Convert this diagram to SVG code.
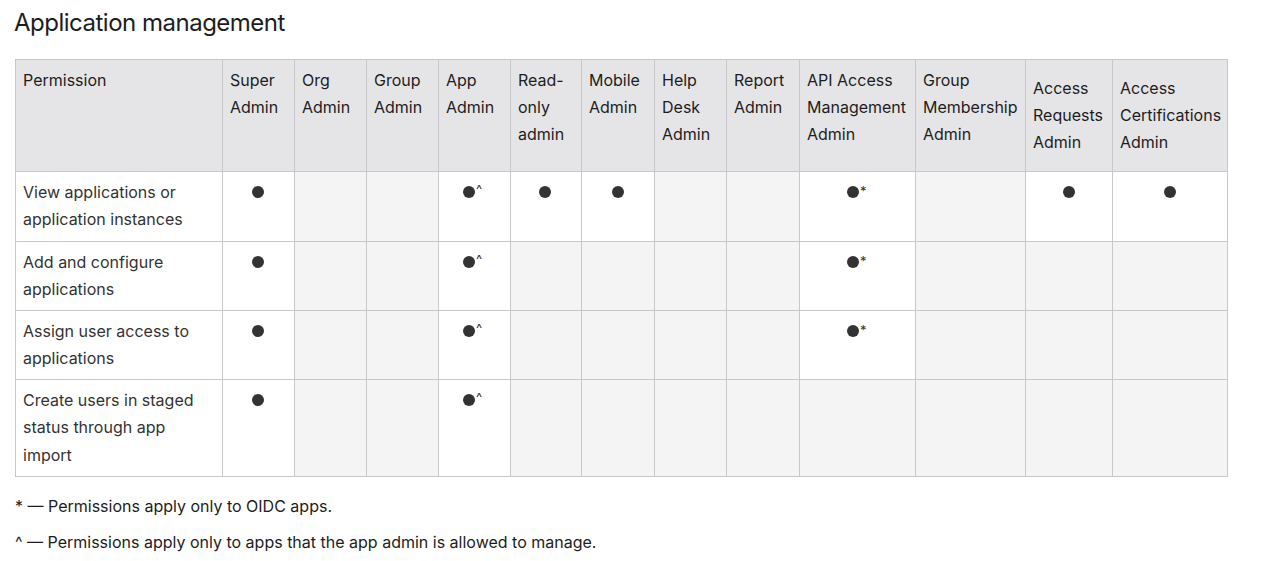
<svg xmlns="http://www.w3.org/2000/svg" width="1274" height="561" viewBox="0 0 1274 561">
<style>
text{font-family:Inter,"Liberation Sans",sans-serif;fill:#1d1d21}
.t{font-size:24px;letter-spacing:-0.5px}
.h{font-size:16px}
.b{font-size:16px;fill:#333}
.f{font-size:16px}
.s{font-size:13px;fill:#333}
.hd{fill:#e5e5e8;stroke:#c8c8c8}
.w{fill:#fff;stroke:#c8c8c8}
.g{fill:#f4f4f4;stroke:#c8c8c8}
.d{fill:#333}
</style>
<rect width="1274" height="561" fill="#fff"/>
<text class="t" x="14" y="31">Application management</text>
<g id="table">
<g id="header">
<rect class="hd" x="15.5" y="59.5" width="207" height="112"/>
<rect class="hd" x="222.5" y="59.5" width="72" height="112"/>
<rect class="hd" x="294.5" y="59.5" width="72" height="112"/>
<rect class="hd" x="366.5" y="59.5" width="72" height="112"/>
<rect class="hd" x="438.5" y="59.5" width="72" height="112"/>
<rect class="hd" x="510.5" y="59.5" width="71" height="112"/>
<rect class="hd" x="581.5" y="59.5" width="73" height="112"/>
<rect class="hd" x="654.5" y="59.5" width="72" height="112"/>
<rect class="hd" x="726.5" y="59.5" width="73" height="112"/>
<rect class="hd" x="799.5" y="59.5" width="116" height="112"/>
<rect class="hd" x="915.5" y="59.5" width="110" height="112"/>
<rect class="hd" x="1025.5" y="59.5" width="87" height="112"/>
<rect class="hd" x="1112.5" y="59.5" width="115" height="112"/>
<text class="h" x="23" y="86">Permission</text>
<text class="h" x="230" y="86">Super<tspan x="230" y="113">Admin</tspan></text>
<text class="h" x="302" y="86">Org<tspan x="302" y="113">Admin</tspan></text>
<text class="h" x="374" y="86">Group<tspan x="374" y="113">Admin</tspan></text>
<text class="h" x="446" y="86">App<tspan x="446" y="113">Admin</tspan></text>
<text class="h" x="518" y="86">Read-<tspan x="518" y="113">only</tspan><tspan x="518" y="140">admin</tspan></text>
<text class="h" x="589" y="86">Mobile<tspan x="589" y="113">Admin</tspan></text>
<text class="h" x="662" y="86">Help<tspan x="662" y="113">Desk</tspan><tspan x="662" y="140">Admin</tspan></text>
<text class="h" x="734" y="86">Report<tspan x="734" y="113">Admin</tspan></text>
<text class="h" x="807" y="86">API Access<tspan x="807" y="113">Management</tspan><tspan x="807" y="140">Admin</tspan></text>
<text class="h" x="923" y="86">Group<tspan x="923" y="113">Membership</tspan><tspan x="923" y="140">Admin</tspan></text>
<text class="h" x="1033" y="94">Access<tspan x="1033" y="121">Requests</tspan><tspan x="1033" y="148">Admin</tspan></text>
<text class="h" x="1120" y="94">Access<tspan x="1120" y="121">Certifications</tspan><tspan x="1120" y="148">Admin</tspan></text>
</g>
<g id="row1">
<rect class="w" x="15.5" y="171.5" width="207" height="70"/>
<rect class="w" x="222.5" y="171.5" width="72" height="70"/>
<rect class="g" x="294.5" y="171.5" width="72" height="70"/>
<rect class="g" x="366.5" y="171.5" width="72" height="70"/>
<rect class="w" x="438.5" y="171.5" width="72" height="70"/>
<rect class="w" x="510.5" y="171.5" width="71" height="70"/>
<rect class="w" x="581.5" y="171.5" width="73" height="70"/>
<rect class="g" x="654.5" y="171.5" width="72" height="70"/>
<rect class="g" x="726.5" y="171.5" width="73" height="70"/>
<rect class="w" x="799.5" y="171.5" width="116" height="70"/>
<rect class="g" x="915.5" y="171.5" width="110" height="70"/>
<rect class="w" x="1025.5" y="171.5" width="87" height="70"/>
<rect class="w" x="1112.5" y="171.5" width="115" height="70"/>
<text class="b" x="23" y="198">View applications or<tspan x="23" y="225">application instances</tspan></text>
<circle class="d" cx="258" cy="192" r="6"/>
<circle class="d" cx="469" cy="192" r="6"/><text class="s" x="476" y="194">^</text>
<circle class="d" cx="545" cy="192" r="6"/>
<circle class="d" cx="618" cy="192" r="6"/>
<circle class="d" cx="853" cy="192" r="6"/><text class="s" x="860" y="196">*</text>
<circle class="d" cx="1069" cy="192" r="6"/>
<circle class="d" cx="1170" cy="192" r="6"/>
</g>
<g id="row2">
<rect class="w" x="15.5" y="241.5" width="207" height="69"/>
<rect class="w" x="222.5" y="241.5" width="72" height="69"/>
<rect class="g" x="294.5" y="241.5" width="72" height="69"/>
<rect class="g" x="366.5" y="241.5" width="72" height="69"/>
<rect class="w" x="438.5" y="241.5" width="72" height="69"/>
<rect class="g" x="510.5" y="241.5" width="71" height="69"/>
<rect class="g" x="581.5" y="241.5" width="73" height="69"/>
<rect class="g" x="654.5" y="241.5" width="72" height="69"/>
<rect class="g" x="726.5" y="241.5" width="73" height="69"/>
<rect class="w" x="799.5" y="241.5" width="116" height="69"/>
<rect class="g" x="915.5" y="241.5" width="110" height="69"/>
<rect class="g" x="1025.5" y="241.5" width="87" height="69"/>
<rect class="g" x="1112.5" y="241.5" width="115" height="69"/>
<text class="b" x="23" y="268">Add and configure<tspan x="23" y="295">applications</tspan></text>
<circle class="d" cx="258" cy="262" r="6"/>
<circle class="d" cx="469" cy="262" r="6"/><text class="s" x="476" y="264">^</text>
<circle class="d" cx="853" cy="262" r="6"/><text class="s" x="860" y="266">*</text>
</g>
<g id="row3">
<rect class="w" x="15.5" y="310.5" width="207" height="69"/>
<rect class="w" x="222.5" y="310.5" width="72" height="69"/>
<rect class="g" x="294.5" y="310.5" width="72" height="69"/>
<rect class="g" x="366.5" y="310.5" width="72" height="69"/>
<rect class="w" x="438.5" y="310.5" width="72" height="69"/>
<rect class="g" x="510.5" y="310.5" width="71" height="69"/>
<rect class="g" x="581.5" y="310.5" width="73" height="69"/>
<rect class="g" x="654.5" y="310.5" width="72" height="69"/>
<rect class="g" x="726.5" y="310.5" width="73" height="69"/>
<rect class="w" x="799.5" y="310.5" width="116" height="69"/>
<rect class="g" x="915.5" y="310.5" width="110" height="69"/>
<rect class="g" x="1025.5" y="310.5" width="87" height="69"/>
<rect class="g" x="1112.5" y="310.5" width="115" height="69"/>
<text class="b" x="23" y="337">Assign user access to<tspan x="23" y="364">applications</tspan></text>
<circle class="d" cx="258" cy="331" r="6"/>
<circle class="d" cx="469" cy="331" r="6"/><text class="s" x="476" y="333">^</text>
<circle class="d" cx="853" cy="331" r="6"/><text class="s" x="860" y="335">*</text>
</g>
<g id="row4">
<rect class="w" x="15.5" y="379.5" width="207" height="97"/>
<rect class="w" x="222.5" y="379.5" width="72" height="97"/>
<rect class="g" x="294.5" y="379.5" width="72" height="97"/>
<rect class="g" x="366.5" y="379.5" width="72" height="97"/>
<rect class="w" x="438.5" y="379.5" width="72" height="97"/>
<rect class="g" x="510.5" y="379.5" width="71" height="97"/>
<rect class="g" x="581.5" y="379.5" width="73" height="97"/>
<rect class="g" x="654.5" y="379.5" width="72" height="97"/>
<rect class="g" x="726.5" y="379.5" width="73" height="97"/>
<rect class="g" x="799.5" y="379.5" width="116" height="97"/>
<rect class="g" x="915.5" y="379.5" width="110" height="97"/>
<rect class="g" x="1025.5" y="379.5" width="87" height="97"/>
<rect class="g" x="1112.5" y="379.5" width="115" height="97"/>
<text class="b" x="23" y="406">Create users in staged<tspan x="23" y="433">status through app</tspan><tspan x="23" y="461">import</tspan></text>
<circle class="d" cx="258" cy="400" r="6"/>
<circle class="d" cx="469" cy="400" r="6"/><text class="s" x="476" y="402">^</text>
</g>
</g>
<text class="f" x="15" y="512">* — Permissions apply only to OIDC apps.</text>
<text class="f" x="15" y="548">^ — Permissions apply only to apps that the app admin is allowed to manage.</text>
</svg>
